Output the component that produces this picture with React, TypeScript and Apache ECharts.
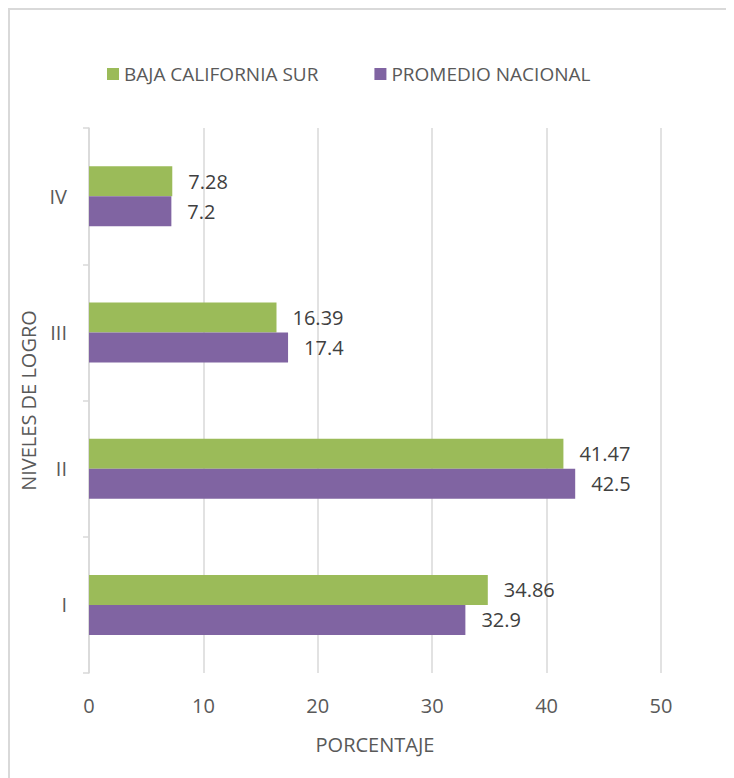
import React, { useEffect, useRef } from "react";
import * as echarts from "echarts";

const categories = ["I", "II", "III", "IV"];
const seriesNames = ["BAJA CALIFORNIA SUR", "PROMEDIO NACIONAL"];
const bajaCaliforniaSur = [34.86, 41.47, 16.39, 7.28];
const promedioNacional = [32.9, 42.5, 17.4, 7.2];
const xTicks = { min: 0, max: 50, interval: 10 };

const FONT = "'Open Sans', sans-serif";

export default function App() {
  const ref = useRef<HTMLDivElement>(null);
  useEffect(() => {
    if (!ref.current) return;
    document.documentElement.style.overflow = "hidden";
    const chart = echarts.init(ref.current, undefined, { renderer: "svg" });
    const labelStyle = {
      show: true,
      position: "right",
      distance: 16,
      color: "#404040",
      fontSize: 20,
      fontFamily: FONT,
    };
    chart.setOption({
      animation: false,
      backgroundColor: "#ffffff",
      textStyle: { fontFamily: FONT },
      legend: {
        left: 97,
        top: 54,
        padding: 0,
        itemWidth: 12,
        itemHeight: 12,
        itemGap: 56,
        icon: "rect",
        textStyle: { color: "#595959", fontSize: 19, fontFamily: FONT, lineHeight: 20 },
        data: seriesNames,
      },
      grid: { left: 79, top: 118, width: 572, height: 545, containLabel: false },
      xAxis: {
        type: "value",
        min: xTicks.min,
        max: xTicks.max,
        interval: xTicks.interval,
        name: "PORCENTAJE",
        nameLocation: "middle",
        nameGap: 61,
        nameTextStyle: { color: "#595959", fontSize: 20, fontFamily: FONT },
        axisLine: { show: false },
        axisTick: { show: false },
        axisLabel: { color: "#595959", fontSize: 20, fontFamily: FONT, margin: 22 },
        splitLine: { show: true, lineStyle: { color: "#d9d9d9", width: 1.5 } },
      },
      yAxis: {
        type: "category",
        data: categories,
        name: "NIVELES DE LOGRO",
        nameLocation: "middle",
        nameGap: 48,
        nameTextStyle: { color: "#595959", fontSize: 20, fontFamily: FONT },
        axisLine: { show: true, lineStyle: { color: "#d9d9d9", width: 1.5 } },
        axisTick: { show: true, length: 6, lineStyle: { color: "#d9d9d9", width: 1.5 } },
        axisLabel: { color: "#595959", fontSize: 20, fontFamily: FONT, margin: 22 },
        splitLine: { show: false },
      },
      series: [
        {
          name: seriesNames[0],
          type: "bar",
          data: bajaCaliforniaSur,
          barWidth: 30,
          barGap: "0%",
          itemStyle: { color: "#9BBB59" },
          label: labelStyle,
        },
        {
          name: seriesNames[1],
          type: "bar",
          data: promedioNacional,
          barWidth: 30,
          barGap: "0%",
          itemStyle: { color: "#8064A2" },
          label: labelStyle,
        },
      ],
    });
    return () => chart.dispose();
  }, []);
  return (
    <div
      style={{
        width: 740,
        height: 780,
        borderTop: "2px solid #d9d9d9",
        borderLeft: "2px solid #d9d9d9",
        boxSizing: "border-box",
        background: "#fff",
      }}
    >
      <div ref={ref} style={{ width: 738, height: 778 }} />
    </div>
  );
}
